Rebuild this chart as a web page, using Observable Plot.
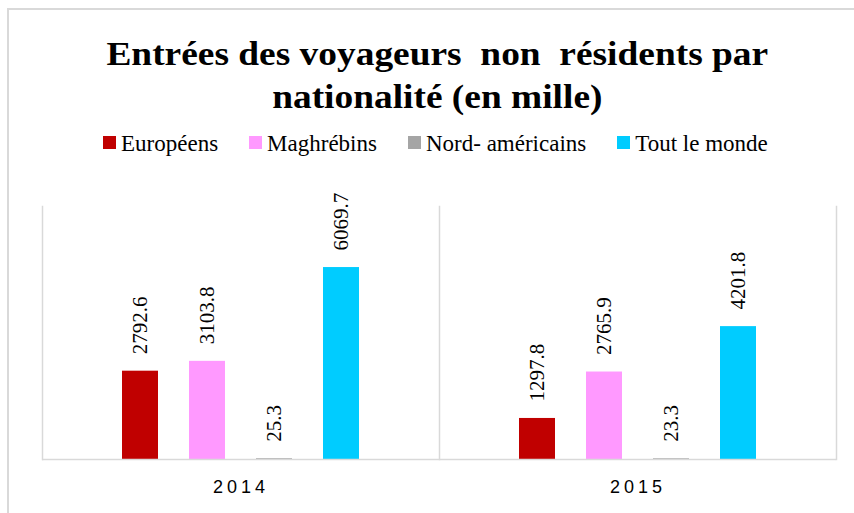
<!DOCTYPE html>
<html>
<head>
<meta charset="utf-8">
<script src="https://cdn.jsdelivr.net/npm/d3@7"></script>
<script src="https://cdn.jsdelivr.net/npm/@observablehq/plot@0.6"></script>
<style>
  html, body { margin: 0; padding: 0; background: #fff; }
  body { width: 854px; height: 513px; position: relative; overflow: hidden; }
  #border { position: absolute; left: 7px; top: 8px; width: 900px; height: 600px;
            border-left: 2px solid #d9d9d9; border-top: 2px solid #d9d9d9; box-sizing: border-box; }
  #title { position: absolute; left: 7px; top: 32px; width: 862px; text-align: center;
           font-family: "Liberation Serif", "Times New Roman", serif; font-weight: 700;
           font-size: 34px; line-height: 43px; color: #000; transform: scaleX(1.1); transform-origin: 438px 0; }
  #legend { position: absolute; left: 103px; top: 132px; display: flex; white-space: nowrap;
            font-family: "Liberation Serif", "Times New Roman", serif; font-size: 23px; line-height: 23px; color: #000; }
  .item { margin-right: 31px; }
  .sw { display: inline-block; width: 13px; height: 13px; vertical-align: 2px; margin-right: 5px; }
  #chart { position: absolute; left: 0; top: 180px; }
  #chart g[aria-label^="fx-axis"] text { letter-spacing: 4px; }
</style>
</head>
<body>
<div id="border"></div>
<div id="title">Entrées des voyageurs&nbsp; non&nbsp; résidents par<br>nationalité (en mille)</div>
<div id="legend"></div>
<div id="chart"></div>
<script>
const years = ["2014", "2015"];
const categories = ["Européens", "Maghrébins", "Nord- américains", "Tout le monde"];
const values2014 = [2792.6, 3103.8, 25.3, 6069.7];
const values2015 = [1297.8, 2765.9, 23.3, 4201.8];
const colors = ["#C00000", "#FF99FF", "#A5A5A5", "#00CCFF"];

const series = {"2014": values2014, "2015": values2015};
const data = [];
for (const y of years) categories.forEach((c, i) => data.push({year: y, category: c, value: series[y][i]}));

// legend
const legend = document.getElementById("legend");
categories.forEach((c, i) => {
  const it = document.createElement("span");
  it.className = "item";
  it.innerHTML = `<span class="sw" style="background:${colors[i]}"></span>${c}`;
  legend.appendChild(it);
});

const chart = Plot.plot({
  width: 854,
  height: 333,
  marginLeft: 41,
  marginRight: 18,
  marginTop: 26,
  marginBottom: 54,
  style: {background: "transparent", overflow: "visible"},
  fx: {domain: years, padding: 0, label: null},
  x: {domain: categories, paddingInner: 0.47, paddingOuter: 1.16, axis: null},
  y: {domain: [0, 8000], axis: null},
  color: {domain: categories, range: colors},
  marks: [
    Plot.frame({anchor: "left", stroke: "#d9d9d9", strokeWidth: 1.5}),
    Plot.frame({anchor: "right", stroke: "#d9d9d9", strokeWidth: 1.5, fx: ["2015"]}),
    Plot.barY(data, {fx: "year", x: "category", y: "value", fill: "category"}),
    Plot.ruleY([0], {stroke: "#d9d9d9", strokeWidth: 1.5}),
    Plot.text(data, {fx: "year", x: "category", y: "value", text: d => d.value.toFixed(1),
      rotate: -90, textAnchor: "start", lineAnchor: "middle", dy: -17,
      fontFamily: "Liberation Serif, Times New Roman, serif", fontSize: 21, fill: "#000"}),
    Plot.axisFx({anchor: "bottom", tickSize: 0, tickPadding: 21, label: null,
      fontFamily: "Liberation Sans, Arial, sans-serif", fontSize: 18, fill: "#000"})
  ]
});
document.getElementById("chart").appendChild(chart);
</script>
</body>
</html>
